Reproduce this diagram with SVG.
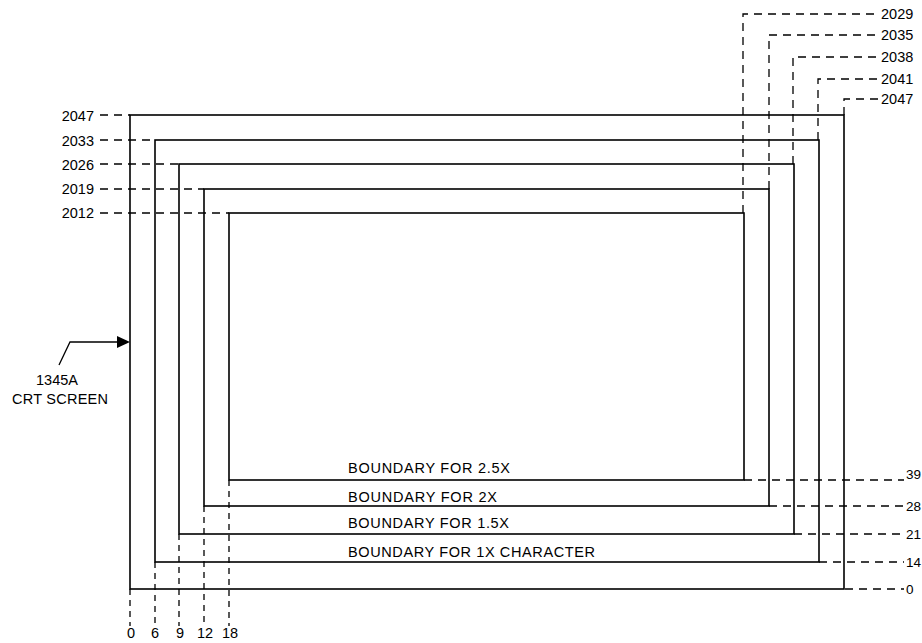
<svg xmlns="http://www.w3.org/2000/svg" width="922" height="643" viewBox="0 0 922 643">
<style>
.bx{fill:none;stroke:#000;stroke-width:1.6}
.dim{fill:none;stroke:#000;stroke-width:1.3;stroke-dasharray:8 6}
.dv{fill:none;stroke:#000;stroke-width:1.3;stroke-dasharray:6 5}
text{font-family:"Liberation Sans",Arial,sans-serif;font-size:14.5px;fill:#000}
.l{text-anchor:end}
.m{text-anchor:middle}
.r{font-size:13.5px}
</style>
<rect width="922" height="643" fill="#fff"/>
<g id="connectors">
<!-- left top-edge extension lines -->
<path class="dim" d="M100,115H130M100,140H155M100,164H179M100,189H204M100,213H229"/>
<!-- top-right extension lines -->
<path class="dim" d="M743,213V14H878M769,189V35H878M793,164V57H878M818,140V79H878M844,115V99H878"/>
<!-- bottom-right extension lines -->
<path class="dim" d="M744,480H904M769,506H904M794,534H904M819,562H904M845,589H904"/>
<!-- bottom-left extension lines -->
<path class="dv" d="M130,589V626M155,562V626M179,534V626M204,506V626M229,480V626"/>
<!-- CRT screen pointer -->
<path d="M59,365L70,342H120" fill="none" stroke="#000" stroke-width="1.3"/>
<polygon points="117,336 130,342 117,348" fill="#000"/>
</g>
<g id="screen">
<rect class="bx" x="130" y="115" width="714" height="474"/>
<text class="m" x="57" y="385">1345A</text>
<text class="m" x="60" y="404" textLength="96" lengthAdjust="spacing">CRT SCREEN</text>
</g>
<g id="boundary-1x">
<rect class="bx" x="155" y="140" width="664" height="422"/>
<text x="348" y="557" textLength="247" lengthAdjust="spacing">BOUNDARY FOR 1X CHARACTER</text>
</g>
<g id="boundary-1-5x">
<rect class="bx" x="179" y="164" width="615" height="370"/>
<text x="348" y="528" textLength="161" lengthAdjust="spacing">BOUNDARY FOR 1.5X</text>
</g>
<g id="boundary-2x">
<rect class="bx" x="204" y="189" width="565" height="317"/>
<text x="348" y="502" textLength="149" lengthAdjust="spacing">BOUNDARY FOR 2X</text>
</g>
<g id="boundary-2-5x">
<rect class="bx" x="229" y="213" width="515" height="267"/>
<text x="348" y="473" textLength="162" lengthAdjust="spacing">BOUNDARY FOR 2.5X</text>
</g>
<g id="labels-left">
<text class="l" x="94" y="121">2047</text>
<text class="l" x="94" y="146">2033</text>
<text class="l" x="94" y="170">2026</text>
<text class="l" x="94" y="194">2019</text>
<text class="l" x="94" y="218">2012</text>
</g>
<g id="labels-top">
<text x="881" y="19">2029</text>
<text x="881" y="40">2035</text>
<text x="881" y="62">2038</text>
<text x="881" y="84">2041</text>
<text x="881" y="104">2047</text>
</g>
<g id="labels-right">
<text class="r" x="906" y="479">39</text>
<text class="r" x="906" y="511">28</text>
<text class="r" x="906" y="539">21</text>
<text class="r" x="906" y="567">14</text>
<text class="r" x="906" y="594">0</text>
</g>
<g id="labels-bottom">
<text class="m" x="131" y="638">0</text>
<text class="m" x="155" y="638">6</text>
<text class="m" x="180" y="638">9</text>
<text class="m" x="205" y="638">12</text>
<text class="m" x="230" y="638">18</text>
</g>
</svg>
